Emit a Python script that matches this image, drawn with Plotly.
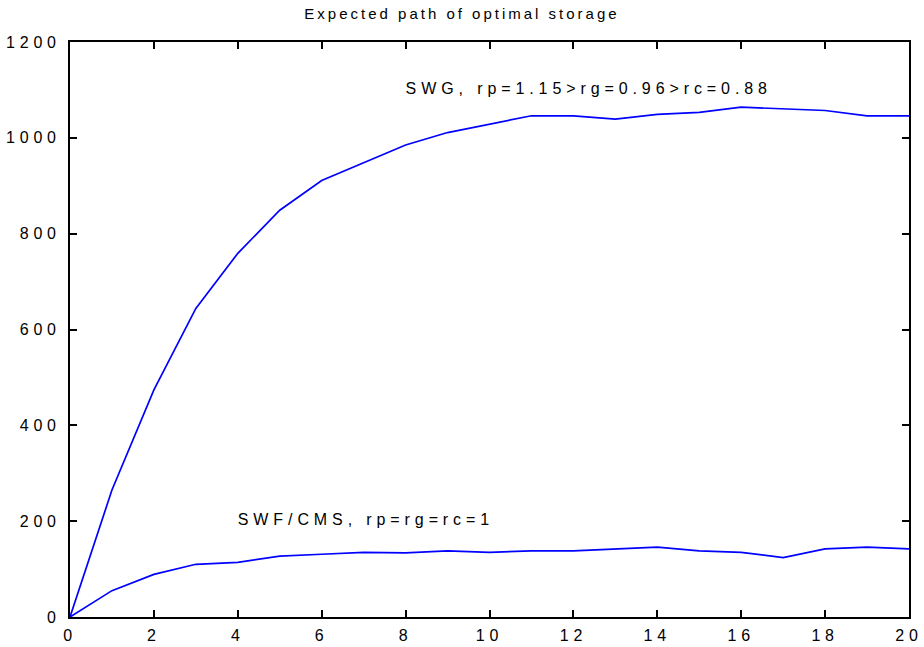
import plotly.graph_objects as go

# Periods of the simulation
periods = list(range(0, 21))

# Expected optimal storage, SWG regime (rp=1.15 > rg=0.96 > rc=0.88)
storage_swg = [0, 265, 474, 644, 759, 849, 911, 948, 985, 1011, 1028,
               1046, 1046, 1039, 1049, 1053, 1064, 1060, 1057, 1046, 1046]

# Expected optimal storage, SWF/CMS regime (rp = rg = rc = 1)
storage_swf = [0, 55, 89, 110, 114, 127, 131, 135, 134, 138, 135,
               138, 138, 142, 146, 138, 135, 124, 142, 146, 142]

x_ticks = list(range(0, 21, 2))
y_ticks = list(range(0, 1201, 200))

# In-plot labels and where they sit (data coordinates)
label_text = ["SWG, rp=1.15>rg=0.96>rc=0.88", "SWF/CMS, rp=rg=rc=1"]
label_x = [8, 4]
label_y = [1100, 200]

title_text = "Expected path of optimal storage"

FONT = "Liberation Sans, Arial, Helvetica, sans-serif"
BLUE = "#0000FF"

fig = go.Figure()
fig.add_trace(go.Scatter(x=periods, y=storage_swg, mode="lines",
                         line=dict(color=BLUE, width=1.7), hoverinfo="skip"))
fig.add_trace(go.Scatter(x=periods, y=storage_swf, mode="lines",
                         line=dict(color=BLUE, width=1.7), hoverinfo="skip"))

# Labels drawn as left-aligned text marks
fig.add_trace(go.Scatter(x=label_x, y=label_y, mode="text", text=label_text,
                         textposition="middle right", cliponaxis=False,
                         textfont=dict(family=FONT, size=16, color="black"),
                         hoverinfo="skip"))

axis_common = dict(
    showline=True, linecolor="black", linewidth=2, mirror="ticks",
    ticks="inside", ticklen=7, tickwidth=1.5, tickcolor="black",
    showgrid=False, zeroline=False, automargin=False,
    tickfont=dict(family=FONT, size=16, color="black"),
)

fig.update_xaxes(range=[0, 20], tickvals=x_ticks, ticklabelstandoff=3,
                 **axis_common)
fig.update_yaxes(range=[0, 1200], tickvals=y_ticks, ticklabelstandoff=4,
                 **axis_common)

fig.update_layout(
    width=924, height=647,
    margin=dict(l=70, r=15, t=42, b=30, autoexpand=False),
    paper_bgcolor="white", plot_bgcolor="white",
    showlegend=False,
    title=dict(text=title_text, x=0.5, xref="container", xanchor="center",
               y=1 - 14 / 647, yanchor="middle", yref="container",
               font=dict(family=FONT, size=15, color="black"),
               automargin=False),
)

# Wide glyph spacing for all chart text
post = """
var s = document.createElement('style');
s.innerHTML = 'svg text{letter-spacing:4.8px;} svg g.textpoint text{letter-spacing:4.9px;} svg text.gtitle{letter-spacing:3px;}';
document.head.appendChild(s);
"""

fig.write_html("out.html", config={"displayModeBar": False}, post_script=post)
